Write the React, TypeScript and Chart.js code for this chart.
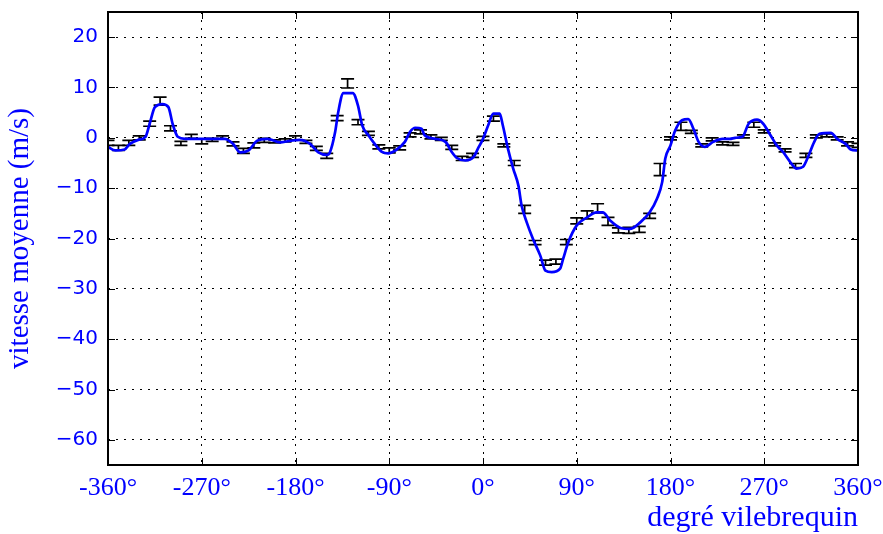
import React, { useEffect, useRef } from 'react';
import { Chart, registerables } from 'chart.js';

Chart.register(...registerables);

// Mean speed curve (crank degrees -> m/s)
const curveDeg = [
  -360, -353, -344, -339, -331, -324, -320, -315, -308, -302, -298, -293, -286, -267, -248,
  -240, -233, -225, -217, -207, -195, -185, -176, -166, -158, -150, -147, -142, -139, -134,
  -125, -120, -116, -110, -104, -97, -91, -84, -75, -70, -65, -59, -56, -46, -36, -30, -25,
  -17, -9, -5, 0, 5, 10, 16, 19, 24, 29, 34, 37, 42, 48, 55, 60, 66, 74, 77, 82, 90, 100,
  109, 115, 122, 132, 141, 151, 160, 167, 172, 175, 180, 184, 191, 197, 202, 207, 213, 221,
  230, 237, 242, 249, 255, 263, 269, 276, 282, 288, 296, 301, 307, 312, 318, 323, 334, 340,
  348, 353, 360,
];
const curveVel = [
  -1.8, -2.5, -2.3, -1.2, -0.4, 0.2, 2.8, 6.1, 6.7, 6.1, 2.8, 0.2, -0.2, -0.2, -0.2,
  -1.2, -2.9, -2.5, -0.6, -0.2, -0.9, -0.6, -0.4, -1.2, -2.9, -3.4, -2.9, 1.1, 5.1, 8.9,
  8.9, 6.4, 2.5, 0.5, -1.2, -2.8, -3.1, -2.5, -0.8, 1.2, 2.0, 1.8, 0.5, -0.2, -0.8, -2.8, -4.0,
  -4.5, -3.8, -2.2, -0.2, 2.5, 4.8, 4.8, 2.5, -2.2, -6.1, -9.5, -13.4, -16.8, -20.1, -23.4, -26.4, -26.7, -26.0, -24.0, -20.7, -17.4, -15.8,
  -14.8, -14.8, -16.4, -17.9, -18.1, -16.8, -14.8, -12.1, -8.8, -4.1, -1.5, 1.2, 3.5, 3.7, 1.8, -0.8, -1.8, -0.8,
  -0.2, -0.2, 0.0, 0.2, 2.8, 3.6, 2.8, 0.5, -1.5, -2.8, -5.1, -6.1, -5.8, -3.8, -0.8, 0.8, 1.0, -0.2,
  -1.2, -2.3, -2.5,
];

// Error bars every 10 degrees
const errDeg = [
  -360, -350, -340, -330, -320, -310, -300, -290, -280, -270, -260, -250, -240, -230, -220,
  -210, -200, -190, -180, -170, -160, -150, -140, -130, -120, -110, -100, -90, -80, -70, -60,
  -50, -40, -30, -20, -10, 0, 10, 20, 30, 40, 50, 60, 70, 80, 90, 100, 110, 120, 130, 140,
  150, 160, 170, 180, 190, 200, 210, 220, 230, 240, 250, 260, 270, 280, 290, 300, 310, 320,
  330, 340, 350, 360,
];
const errMean = [
  -1.0, -2.0, -1.0, 0.0, 2.8, 7.3, 1.9, -1.1, 0.3, -0.7, -0.4, 0.1, -1.2, -2.6, -1.5,
  -0.5, -0.7, -0.5, 0.0, -0.8, -2.1, -3.6, 3.9, 10.8, 3.1, 0.9, -1.8, -2.5, -2.0, 0.6, 1.2,
  0.2, -0.2, -1.9, -4.1, -3.5, -0.1, 3.8, -1.5, -5.0, -14.2, -20.8, -24.8, -24.6, -20.7, -16.5, -15.3, -14.0, -16.6, -18.4, -18.4,
  -18.2, -15.5, -6.3, -0.1, 2.3, 1.2, -1.5, -0.3, -1.1, -1.2, 0.3, 2.6, 1.3, -1.3, -2.5, -5.5, -3.5, 0.3,
  0.5, -0.1, -1.2, -1.5,
];
const errStd = [
  0.5, 0.5, 0.5, 0.4, 0.5, 0.8, 0.5, 0.4, 0.4, 0.5, 0.3, 0.3, 0.4, 0.5, 0.5,
  0.4, 0.3, 0.3, 0.4, 0.3, 0.4, 0.5, 0.5, 0.9, 0.5, 0.4, 0.4, 0.5, 0.4, 0.4, 0.4,
  0.4, 0.3, 0.4, 0.4, 0.4, 0.4, 0.5, 0.3, 0.5, 0.8, 0.4, 0.5, 0.5, 0.5, 0.6, 0.8, 0.9, 0.8, 0.5, 0.6,
  0.6, 0.5, 1.2, 0.3, 0.8, 0.3, 0.3, 0.3, 0.3, 0.3, 0.3, 0.5, 0.3, 0.3, 0.3, 0.4, 0.4, 0.3,
  0.3, 0.3, 0.4, 0.4,
];

const xTicks = [-360, -270, -180, -90, 0, 90, 180, 270, 360];
const yTicks = [-60, -50, -40, -30, -20, -10, 0, 10, 20];

const BLUE = '#0000ff';

const errorBarPlugin = {
  id: 'errorBars',
  beforeDatasetsDraw(chart: any) {
    const { ctx, chartArea } = chart;
    const x = chart.scales.x;
    const y = chart.scales.y;
    ctx.save();
    ctx.beginPath();
    ctx.rect(chartArea.left, chartArea.top, chartArea.right - chartArea.left, chartArea.bottom - chartArea.top);
    ctx.clip();
    ctx.strokeStyle = '#000';
    ctx.lineWidth = 1.7;
    errDeg.forEach((d, i) => {
      const px = x.getPixelForValue(d);
      const top = y.getPixelForValue(errMean[i] + errStd[i]);
      const bot = y.getPixelForValue(errMean[i] - errStd[i]);
      ctx.beginPath();
      ctx.moveTo(px, top);
      ctx.lineTo(px, bot);
      ctx.moveTo(px - 6.5, top);
      ctx.lineTo(px + 6.5, top);
      ctx.moveTo(px - 6.5, bot);
      ctx.lineTo(px + 6.5, bot);
      ctx.stroke();
    });
    ctx.restore();
  },
};

const framePlugin = {
  id: 'frame',
  afterDraw(chart: any) {
    const { ctx, chartArea } = chart;
    const x = chart.scales.x;
    const y = chart.scales.y;
    const { left, right, top, bottom } = chartArea;
    ctx.save();
    ctx.strokeStyle = '#000';
    ctx.lineWidth = 1;
    const tl = 7;
    ctx.beginPath();
    yTicks.forEach((v) => {
      const py = Math.round(y.getPixelForValue(v)) + 0.5;
      ctx.moveTo(left, py);
      ctx.lineTo(left + tl, py);
      ctx.moveTo(right, py);
      ctx.lineTo(right - tl, py);
    });
    xTicks.forEach((v) => {
      const px = Math.round(x.getPixelForValue(v)) + 0.5;
      ctx.moveTo(px, bottom);
      ctx.lineTo(px, bottom - tl);
      ctx.moveTo(px, top);
      ctx.lineTo(px, top + tl);
    });
    ctx.stroke();
    ctx.lineWidth = 2;
    ctx.strokeRect(left, top, right - left, bottom - top);
    ctx.restore();
  },
};

export default function App() {
  const ref = useRef<HTMLCanvasElement | null>(null);

  useEffect(() => {
    const canvas = ref.current;
    if (!canvas) return;
    const chart = new Chart(canvas, {
      type: 'line',
      data: {
        datasets: [
          {
            label: 'vitesse moyenne',
            data: curveDeg.map((d, i) => ({ x: d, y: curveVel[i] })),
            borderColor: BLUE,
            backgroundColor: BLUE,
            borderWidth: 2.7,
            pointRadius: 0,
            cubicInterpolationMode: 'monotone',
            fill: false,
          },
        ],
      },
      options: {
        animation: false,
        responsive: false,
        layout: { padding: { left: 0, right: 25, top: 12, bottom: 0 } },
        plugins: {
          legend: { display: false },
          tooltip: { enabled: false },
        },
        scales: {
          x: {
            type: 'linear',
            min: -360,
            max: 360,
            afterFit: (s: any) => {
              s.height = 69;
              s.paddingLeft = 0;
              s.paddingRight = 0;
            },
            afterBuildTicks: (s: any) => {
              s.ticks = xTicks.map((v) => ({ value: v }));
            },
            grid: {
              color: '#000',
              lineWidth: 1,
              drawTicks: false,
            },
            border: { display: false, dash: [2, 6] },
            ticks: {
              color: BLUE,
              padding: 8,
              maxRotation: 0,
              autoSkip: false,
              font: { family: '"Liberation Serif", "DejaVu Serif", serif', size: 26 },
              callback: (v: any) => `${v}°`,
            },
            title: {
              display: true,
              text: 'degré vilebrequin',
              align: 'end',
              color: BLUE,
              padding: { top: 0, bottom: -2 },
              font: { family: '"Liberation Serif", "DejaVu Serif", serif', size: 30 },
            },
          },
          y: {
            type: 'linear',
            min: -65,
            max: 25,
            afterFit: (s: any) => {
              s.width = 108;
              s.paddingTop = 0;
              s.paddingBottom = 0;
            },
            afterBuildTicks: (s: any) => {
              s.ticks = yTicks.map((v) => ({ value: v }));
            },
            grid: {
              color: '#000',
              lineWidth: 1,
              drawTicks: false,
            },
            border: { display: false, dash: [2, 6] },
            ticks: {
              color: BLUE,
              padding: 10,
              autoSkip: false,
              font: { family: '"DejaVu Sans", sans-serif', size: 20 },
              callback: (v: any) => (v < 0 ? '\u2212' + Math.abs(v) : String(v)),
            },
            title: {
              display: true,
              text: 'vitesse moyenne (m/s)',
              color: BLUE,
              padding: { top: 3, bottom: 0 },
              font: { family: '"Liberation Serif", "DejaVu Serif", serif', size: 29 },
            },
          },
        },
      } as any,
      plugins: [errorBarPlugin, framePlugin],
    });
    return () => chart.destroy();
  }, []);

  return (
    <div style={{ position: 'fixed', left: 0, top: 0, width: 883, height: 534, background: '#fff' }}>
      <canvas ref={ref} width={883} height={534} style={{ display: 'block' }} />
    </div>
  );
}
